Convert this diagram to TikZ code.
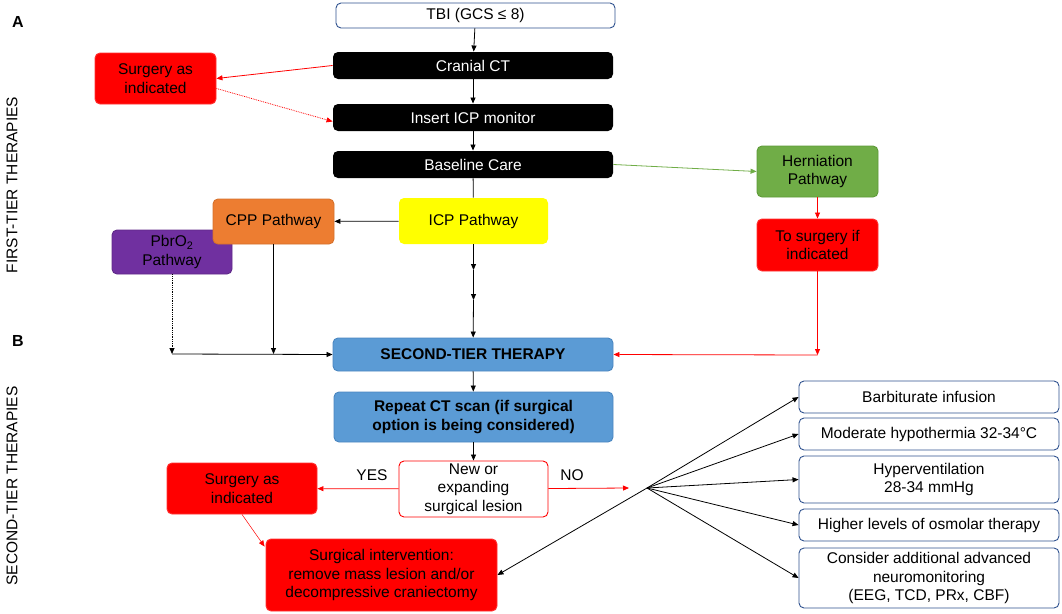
\documentclass[tikz,border=0pt]{standalone}
\usepackage{fontspec}
\setmainfont{Liberation Sans}
\usetikzlibrary{arrows.meta}
\definecolor{BOXBLUE}{HTML}{2F528F}
\definecolor{TIERBLUE}{HTML}{5B9BD5}
\definecolor{TIEREDGE}{HTML}{4A86C0}
\definecolor{SURGRED}{HTML}{FF0000}
\definecolor{HERNGREEN}{HTML}{70AD47}
\definecolor{HERNEDGE}{HTML}{5E9A38}
\definecolor{CPPORANGE}{HTML}{ED7D31}
\definecolor{PBRPURPLE}{HTML}{7030A0}
\definecolor{ICPYELLOW}{HTML}{FFFF00}

\begin{document}
\begin{tikzpicture}[x=1pt, y=-1pt,
    box/.style={rounded corners=5pt, align=center, inner sep=0pt, line width=0.9pt,
        font=\fontsize{15.5}{18.5}\selectfont},
    blackbox/.style={box, fill=black, text=white, minimum width=280pt, minimum height=27pt},
    outline/.style={box, draw=BOXBLUE, fill=white},
    redbox/.style={box, fill=SURGRED, draw=SURGRED!80!white},
    tierbox/.style={box, fill=TIERBLUE, draw=TIEREDGE,
        font=\fontsize{15.5}{18.5}\selectfont\bfseries},
    sidelabel/.style={font=\fontsize{15.5}{18.5}\selectfont, rotate=90},
    partlabel/.style={font=\fontsize{16}{18}\selectfont\bfseries},
    link/.style={-{Triangle[length=6pt,width=5pt]}, line width=0.8pt},
    redlink/.style={link, SURGRED}]
    \useasboundingbox (0,0) rectangle (1062,613);

    % part labels
    \node[partlabel] (parta) at (18,22) {A};
    \node[partlabel] (partb) at (18,341) {B};
    \node[sidelabel] (firsttier) at (12,185) {FIRST-TIER THERAPIES};
    \node[sidelabel] (secondtier) at (12,486) {SECOND-TIER THERAPIES};

    % first-tier column
    \node[outline, minimum width=279pt, minimum height=25pt] (tbi) at (475.5,15.5) {TBI (GCS ≤ 8)};
    \node[blackbox] (ct) at (473,65.5) {Cranial CT};
    \node[blackbox] (icpmon) at (473,117.5) {Insert ICP monitor};
    \node[blackbox] (baseline) at (473,164.5) {Baseline Care};
    \node[redbox, minimum width=121pt, minimum height=51pt] (surgtop) at (155.5,78.5) {Surgery as\\indicated};
    \node[box, fill=HERNGREEN, draw=HERNEDGE, minimum width=121pt, minimum height=51pt] (hern) at (817.5,171.5) {Herniation\\Pathway};
    \node[redbox, minimum width=121pt, minimum height=52pt] (tosurg) at (817.5,245) {To surgery if\\indicated};
    \node[box, fill=ICPYELLOW, minimum width=149pt, minimum height=46pt] (icp) at (473.5,221) {ICP Pathway};
    \node[box, fill=PBRPURPLE, draw=PBRPURPLE!85!black, minimum width=120pt, minimum height=44pt] (pbro) at (172,252) {PbrO\textsubscript{2}\\Pathway};
    \node[box, fill=CPPORANGE, draw=CPPORANGE!90!black, minimum width=121pt, minimum height=45pt] (cpp) at (273.5,221.5) {CPP Pathway};

    % second-tier column
    \node[tierbox, minimum width=280pt, minimum height=33pt] (second) at (473,354.5) {SECOND-TIER THERAPY};
    \node[tierbox, minimum width=279pt, minimum height=50pt] (repeat) at (473.5,417) {Repeat CT scan (if surgical\\option is being considered)};
    \node[box, draw=SURGRED, fill=white, minimum width=149pt, minimum height=56pt] (lesion) at (473.5,489) {New or\\expanding\\surgical lesion};
    \node[redbox, minimum width=150pt, minimum height=51pt] (surgbot) at (242,488.5) {Surgery as\\indicated};
    \node[redbox, minimum width=231pt, minimum height=72pt] (interv) at (381.5,575) {Surgical intervention:\\remove mass lesion and/or\\decompressive craniectomy};
    \node[font=\fontsize{15.5}{18.5}\selectfont] (yes) at (372,475) {YES};
    \node[font=\fontsize{15.5}{18.5}\selectfont] (no) at (572,475) {NO};

    % options on the right
    \node[outline, minimum width=260pt, minimum height=32pt] (barb) at (929,397) {Barbiturate infusion};
    \node[outline, minimum width=260pt, minimum height=32pt] (hypo) at (929,434) {Moderate hypothermia 32-34°C};
    \node[outline, minimum width=260pt, minimum height=47pt] (hyper) at (929,479.5) {Hyperventilation\\28-34 mmHg};
    \node[outline, minimum width=260pt, minimum height=32pt] (osmo) at (929,525) {Higher levels of osmolar therapy};
    \node[outline, minimum width=260pt, minimum height=60pt] (neuro) at (929,578) {Consider additional advanced\\neuromonitoring\\(EEG, TCD, PRx, CBF)};

    \coordinate (icpa) at (473.5,270);
    \coordinate (icpb) at (473.5,300);
    \coordinate (pbrend) at (172,354);
    \coordinate (cppend) at (273.5,354);
    \coordinate (hernend) at (817.5,355);
    \coordinate (noend) at (629,488);
    \coordinate (fan) at (647,488);

    % connectors
    \draw[link] (tbi) -- (ct);
    \draw[link] (ct) -- (icpmon);
    \draw[link] (icpmon) -- (baseline);
    \draw[line width=0.8pt] (baseline) -- (icp);
    \draw[redlink] (ct.west) -- (surgtop.east);
    \draw[redlink, densely dotted] ([yshift=-10pt]surgtop.east) -- ([yshift=-4pt]icpmon.west);
    \draw[link, HERNGREEN] (baseline.east) -- (hern.west);
    \draw[redlink] (hern) -- (tosurg);
    \draw[redlink] (tosurg) -- (hernend);
    \draw[redlink] (hernend) -- (second.east);
    \draw[link] (icp) -- (cpp);
    \draw[link] (icp) -- (icpa);
    \draw[link] (icpa) -- (icpb);
    \draw[link] (icpb) -- (second);
    \draw[link, densely dotted] (pbro.south) -- (pbrend);
    \draw[link] (cpp.south) -- (cppend);
    \draw[link] (pbrend) -- (second.west);

    \draw[link] (second) -- (repeat);
    \draw[link] (repeat) -- (lesion);
    \draw[redlink] (lesion) -- (surgbot);
    \draw[redlink] (lesion) -- (noend);
    \draw[redlink, line width=0.5pt] (surgbot.south) -- ([yshift=-8pt,xshift=-1pt]interv.north west);
    \draw[link] (fan) -- (interv.east);
    \draw[link] (fan) -- (barb.west);
    \draw[link] (fan) -- (hypo.west);
    \draw[link] (fan) -- (hyper.west);
    \draw[link] (fan) -- (osmo.west);
    \draw[link] (fan) -- (neuro.west);
\end{tikzpicture}
\end{document}
